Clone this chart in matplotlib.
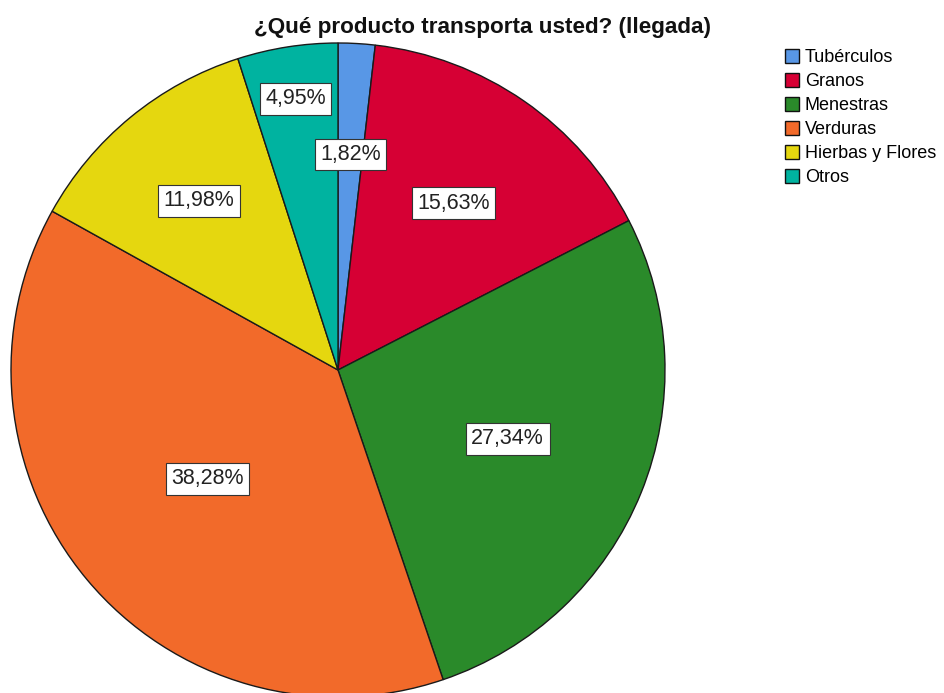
import matplotlib.pyplot as plt
import numpy as np

plt.rcParams['font.family'] = ['Liberation Sans', 'DejaVu Sans']

categories = ["Tubérculos", "Granos", "Menestras", "Verduras", "Hierbas y Flores", "Otros"]
percentages = [1.82, 15.63, 27.34, 38.28, 11.98, 4.95]
colors = ["#5897e6", "#d60034", "#2a8a2a", "#f26a2a", "#e5d70f", "#00b3a0"]
label_dist = [0.66, 0.62, 0.56, 0.52, 0.67, 0.84]

fig = plt.figure(figsize=(9.44, 6.93), dpi=100)
fig.patch.set_facecolor("white")

# pie axes: centre at (338, 370) px, radius 327 px
W, H = 944, 693
cx, cy, r = 338, 370, 327
ax = fig.add_axes([(cx - r) / W, (H - cy - r) / H, 2 * r / W, 2 * r / H])
wedges, _ = ax.pie(percentages, colors=colors, startangle=90, counterclock=False,
                   radius=1.0, wedgeprops=dict(edgecolor="#1a1a1a", linewidth=1.0))
ax.set_xlim(-1, 1)
ax.set_ylim(-1, 1)
ax.set_aspect("equal")
ax.axis("off")

for w, pct, d in zip(wedges, percentages, label_dist):
    ang = np.deg2rad((w.theta1 + w.theta2) / 2)
    ax.text(d * np.cos(ang), d * np.sin(ang), f"{pct:.2f}%".replace(".", ","),
            ha="center", va="center", fontsize=15.5, color="#222222",
            bbox=dict(boxstyle="square,pad=0.25", facecolor="white",
                      edgecolor="#333333", linewidth=0.8))

fig.text(482 / W, 1 - 28 / H, "¿Qué producto transporta usted? (llegada)",
         ha="center", va="center", fontsize=16.2, fontweight="bold", color="#111111")

handles = [plt.Rectangle((0, 0), 1, 1, facecolor=c, edgecolor="#111111", linewidth=1.0)
           for c in colors]
fig.legend(handles, categories, loc="upper left", bbox_to_anchor=(785 / W, 1 - 49 / H),
           frameon=False, fontsize=13, handlelength=0.8, handleheight=0.8,
           handletextpad=0.3, labelspacing=0.38, borderpad=0, borderaxespad=0)

fig.savefig("out.png", dpi=100)
